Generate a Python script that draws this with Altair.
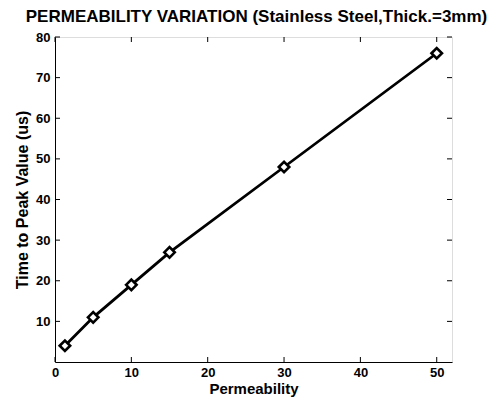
import altair as alt
import pandas as pd

permeability = [1.3, 5, 10, 15, 30, 50]
time_to_peak = [4, 11, 19, 27, 48, 76]
x_ticks = [0, 10, 20, 30, 40, 50]
y_ticks = [10, 20, 30, 40, 50, 60, 70, 80]

W, H = 397, 325
FONT = "Liberation Sans"

df = pd.DataFrame({"p": permeability, "t": time_to_peak})
dx = pd.DataFrame({"v": x_ticks})
dy = pd.DataFrame({"v": y_ticks})

xs = alt.Scale(domain=[0, 52], nice=False, zero=False)
ys = alt.Scale(domain=[0, 80], nice=False)

xaxis = alt.Axis(values=x_ticks, ticks=False, grid=False, labelFontSize=13,
                 labelFontWeight="bold", labelFont=FONT, labelColor="black",
                 title="Permeability", titleFont=FONT, titleFontSize=15,
                 titleFontWeight="bold", titleColor="black", labelPadding=4,
                 titlePadding=2, domainColor="black", labelFlush=False)
yaxis = alt.Axis(values=y_ticks, ticks=False, grid=False, labelFontSize=13,
                 labelFontWeight="bold", labelFont=FONT, labelColor="black",
                 title="Time to Peak Value (us)", titleFont=FONT, titleFontSize=16,
                 titleFontWeight="bold", titleColor="black", labelPadding=5,
                 titlePadding=5, domainColor="black")

line = alt.Chart(df).mark_line(color="black", strokeWidth=2.8).encode(
    x=alt.X("p:Q", scale=xs, axis=xaxis),
    y=alt.Y("t:Q", scale=ys, axis=yaxis),
)
pts = alt.Chart(df).mark_point(shape="diamond", filled=True, fill="white",
                               stroke="black", strokeWidth=2.6, size=110, opacity=1).encode(
    x=alt.X("p:Q", scale=xs),
    y=alt.Y("t:Q", scale=ys),
)

tb = alt.Chart(dx).mark_rule(color="black", strokeWidth=1).encode(
    x=alt.X("v:Q", scale=xs), y=alt.value(H), y2=alt.value(H - 5))
tt = alt.Chart(dx).mark_rule(color="black", strokeWidth=1).encode(
    x=alt.X("v:Q", scale=xs), y=alt.value(0), y2=alt.value(5))
tl = alt.Chart(dy).mark_rule(color="black", strokeWidth=1).encode(
    y=alt.Y("v:Q", scale=ys), x=alt.value(0), x2=alt.value(5))
tr = alt.Chart(dy).mark_rule(color="black", strokeWidth=1).encode(
    y=alt.Y("v:Q", scale=ys), x=alt.value(W), x2=alt.value(W - 5))

chart = alt.layer(tb, tt, tl, tr, line, pts).properties(
    width=W, height=H,
    autosize="none",
    padding={"left": 47, "top": 29, "right": 35, "bottom": 41},
    title=alt.TitleParams("PERMEABILITY VARIATION (Stainless Steel,Thick.=3mm)",
                          font=FONT, fontSize=17, fontWeight="bold", color="black",
                          anchor="middle", offset=5, dx=3, limit=1000),
).configure_view(stroke="black", strokeWidth=1.2).configure(background="white")

chart.save("out.html", embed_options={"renderer": "svg", "actions": False})
